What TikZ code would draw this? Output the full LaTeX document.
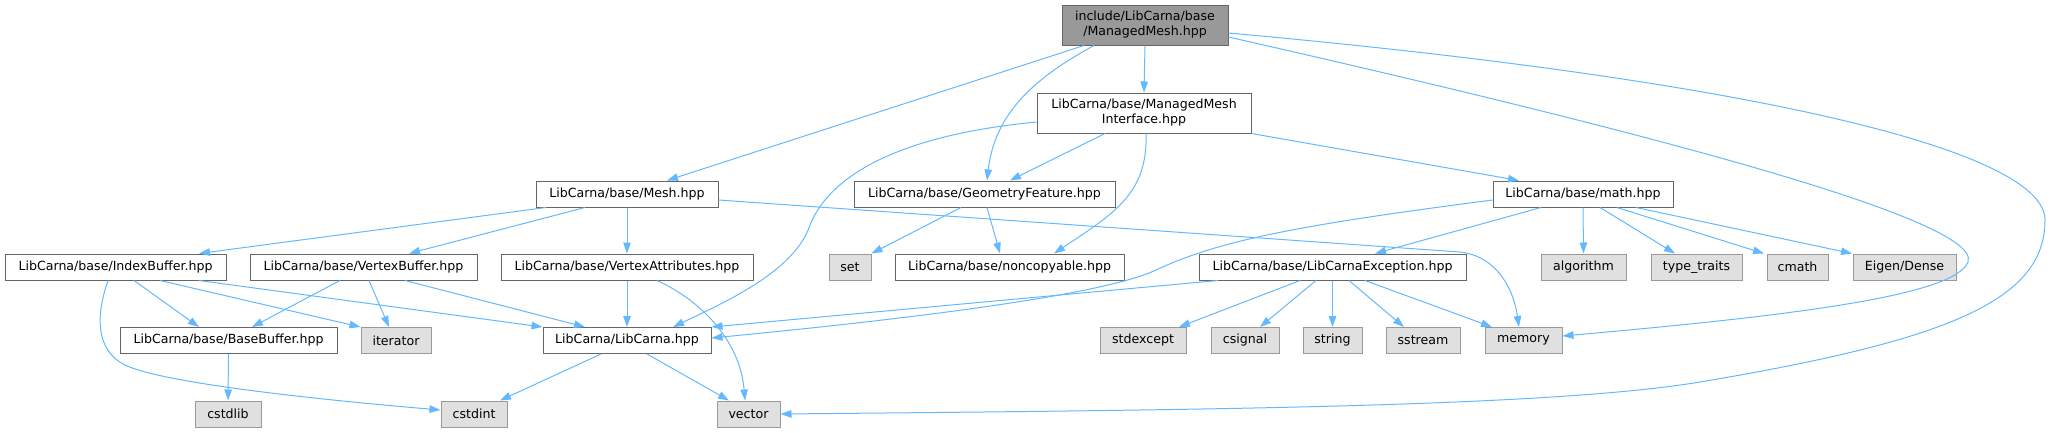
\documentclass[tikz,border=0pt]{standalone}
\usepackage{fontspec}
\setmainfont{DejaVu Sans}
\usepackage{tikz}
\usetikzlibrary{arrows.meta}
\definecolor{Dep}{RGB}{99,184,255}
\definecolor{Frame}{RGB}{102,102,102}
\definecolor{Sys}{RGB}{224,224,224}
\definecolor{SysFrame}{RGB}{153,153,153}
\definecolor{Root}{RGB}{153,153,153}
\tikzset{
  hdr/.style={draw=Frame, fill=white, line width=1pt, minimum height=26,
              inner sep=2pt, align=center, font=\fontsize{12.6}{15}\selectfont},
  sys/.style={hdr, draw=SysFrame, fill=Sys},
  rootbox/.style={hdr, fill=Root, minimum height=40},
  dep/.style={draw=Dep, line width=1pt, -{Triangle[length=11pt,width=7.5pt]}}
}

\begin{document}
\begin{tikzpicture}[x=1pt,y=-1pt]
    \useasboundingbox (0,0) rectangle (2050,432);
    % headers
    \node [rootbox, minimum width=166] (root) at (1145,25) {include/LibCarna/base\\/ManagedMesh.hpp};
    \node [hdr, minimum width=214, minimum height=40] (mmi) at (1144,113) {LibCarna/base/ManagedMesh\\Interface.hpp};
    \node [hdr, minimum width=182] (mesh) at (627,194) {LibCarna/base/Mesh.hpp};
    \node [hdr, minimum width=261] (geom) at (984.5,194) {LibCarna/base/GeometryFeature.hpp};
    \node [hdr, minimum width=180] (math) at (1583,194) {LibCarna/base/math.hpp};
    \node [hdr, minimum width=221] (ibuf) at (115.5,267) {LibCarna/base/IndexBuffer.hpp};
    \node [hdr, minimum width=227] (vbuf) at (363.5,267) {LibCarna/base/VertexBuffer.hpp};
    \node [hdr, minimum width=252] (vattr) at (627,267) {LibCarna/base/VertexAttributes.hpp};
    \node [hdr, minimum width=229] (noncopy) at (1009.5,267) {LibCarna/base/noncopyable.hpp};
    \node [hdr, minimum width=267] (lcexc) at (1332.5,267) {LibCarna/base/LibCarnaException.hpp};
    \node [hdr, minimum width=217] (bbuf) at (228.5,340.5) {LibCarna/base/BaseBuffer.hpp};
    \node [hdr, minimum width=168] (libcarna) at (627,340.5) {LibCarna/LibCarna.hpp};
    % system headers
    \node [sys, minimum width=42] (set) at (850,267) {set};
    \node [sys, minimum width=85] (algorithm) at (1583.5,267) {algorithm};
    \node [sys, minimum width=91] (typetraits) at (1696.5,267) {type\_traits};
    \node [sys, minimum width=61] (cmath) at (1797.5,267) {cmath};
    \node [sys, minimum width=103] (eigen) at (1904.5,267) {Eigen/Dense};
    \node [sys, minimum width=70] (iterator) at (396,340.5) {iterator};
    \node [sys, minimum width=86] (stdexcept) at (1143,340.5) {stdexcept};
    \node [sys, minimum width=68] (csignal) at (1245,340.5) {csignal};
    \node [sys, minimum width=59] (string) at (1332.5,340.5) {string};
    \node [sys, minimum width=74] (sstream) at (1423,340.5) {sstream};
    \node [sys, minimum width=77] (memory) at (1523.5,340.5) {memory};
    \node [sys, minimum width=66] (cstdlib) at (228,414) {cstdlib};
    \node [sys, minimum width=66] (cstdint) at (474,414) {cstdint};
    \node [sys, minimum width=63] (vector) at (748.5,414) {vector};
    % includes
    \draw [dep] ([xshift=-61pt]root.south) -- ([xshift=40pt]mesh.north);
    \draw [dep] ([xshift=-51pt]root.south) .. controls +(-55,30) and +(8,-70) .. ([xshift=2.5pt]geom.north);
    \draw [dep] (root.south) -- (mmi.north);
    \draw [dep] ([yshift=-12pt]root.east) .. controls (1550,110) and (1985,215) .. (1968,262)
                .. controls (1955,295) and (1800,315) .. ([yshift=4.5pt]memory.east);
    \draw [dep] ([yshift=-8pt]root.east) .. controls (1750,80) and (2045,150) .. (2045,220)
                .. controls (2045,300) and (1950,340) .. (1700,382)
                .. controls (1550,407) and (1200,410) .. (vector.east);
    \draw [dep] ([yshift=-9pt]mmi.west) .. controls (900,135) and (830,175) .. (810,225)
                .. controls (795,270) and (730,300) .. ([xshift=46pt]libcarna.north);
    \draw [dep] ([xshift=-39pt]mmi.south) -- ([xshift=25.5pt]geom.north);
    \draw [dep] ([xshift=2pt]mmi.south) .. controls +(2,60) and +(60,-40) .. ([xshift=44.5pt]noncopy.north);
    \draw [dep] (mmi.south east) -- ([xshift=-64pt]math.north);
    \draw [dep] ([xshift=-81pt]mesh.south) -- ([xshift=83.5pt]ibuf.north);
    \draw [dep] ([xshift=-42pt]mesh.south) -- ([xshift=45.5pt]vbuf.north);
    \draw [dep] (mesh) -- (vattr);
    \draw [dep] ([yshift=-6pt]mesh.east) -- (1460,252) .. controls (1490,255) and (1512,280) .. ([xshift=-4.5pt]memory.north);
    \draw [dep] ([xshift=-23.5pt]geom.south) -- (set.north east);
    \draw [dep] ([xshift=2.5pt]geom.south) -- ([xshift=-9.5pt]noncopy.north);
    \draw [dep] ([yshift=-6pt]math.west) .. controls (1300,225) and (1220,240) .. (1156,270)
                .. controls (1110,292) and (950,315) .. ([yshift=2.5pt]libcarna.east);
    \draw [dep] ([xshift=-42pt]math.south) -- ([xshift=42.5pt]lcexc.north);
    \draw [dep] (math.south) -- (algorithm.north);
    \draw [dep] ([xshift=17pt]math.south) -- ([xshift=-21.5pt]typetraits.north);
    \draw [dep] ([xshift=34pt]math.south) -- ([xshift=-33.5pt]cmath.north);
    \draw [dep] ([xshift=53pt]math.south) -- ([xshift=-52.5pt]eigen.north);
    \draw [dep] ([xshift=-114.5pt]lcexc.south) -- (libcarna.north east);
    \draw [dep] ([xshift=-32.5pt]lcexc.south) -- ([xshift=36pt]stdexcept.north);
    \draw [dep] ([xshift=-16.5pt]lcexc.south) -- ([xshift=15pt]csignal.north);
    \draw [dep] (lcexc.south) -- (string.north);
    \draw [dep] ([xshift=16.5pt]lcexc.south) -- ([xshift=-19pt]sstream.north);
    \draw [dep] ([xshift=32.5pt]lcexc.south) -- ([xshift=-31.5pt]memory.north);
    \draw [dep] ([xshift=18.5pt]ibuf.south) -- ([xshift=-29.5pt]bbuf.north);
    \draw [dep] ([xshift=44.5pt]ibuf.south) -- (iterator.north west);
    \draw [dep] ([xshift=83.5pt]ibuf.south) -- (libcarna.north west);
    \draw [dep] ([xshift=-7.5pt]ibuf.south) .. controls (96,315) and (95,350) .. (125,365)
                .. controls (160,382) and (300,398) .. ([yshift=4pt]cstdint.west);
    \draw [dep] ([xshift=-23.5pt]vbuf.south) -- ([xshift=23.5pt]bbuf.north);
    \draw [dep] ([xshift=5.5pt]vbuf.south) -- ([xshift=-7pt]iterator.north);
    \draw [dep] ([xshift=41.5pt]vbuf.south) -- ([xshift=-42pt]libcarna.north);
    \draw [dep] (vattr) -- (libcarna);
    \draw [dep] ([xshift=30pt]vattr.south) .. controls (700,300) and (740,340) .. ([xshift=-3.5pt]vector.north);
    \draw [dep] (bbuf) -- (cstdlib);
    \draw [dep] ([xshift=-26pt]libcarna.south) -- ([xshift=26pt]cstdint.north);
    \draw [dep] ([xshift=20pt]libcarna.south) -- ([xshift=-19.5pt]vector.north);
\end{tikzpicture}
\end{document}
